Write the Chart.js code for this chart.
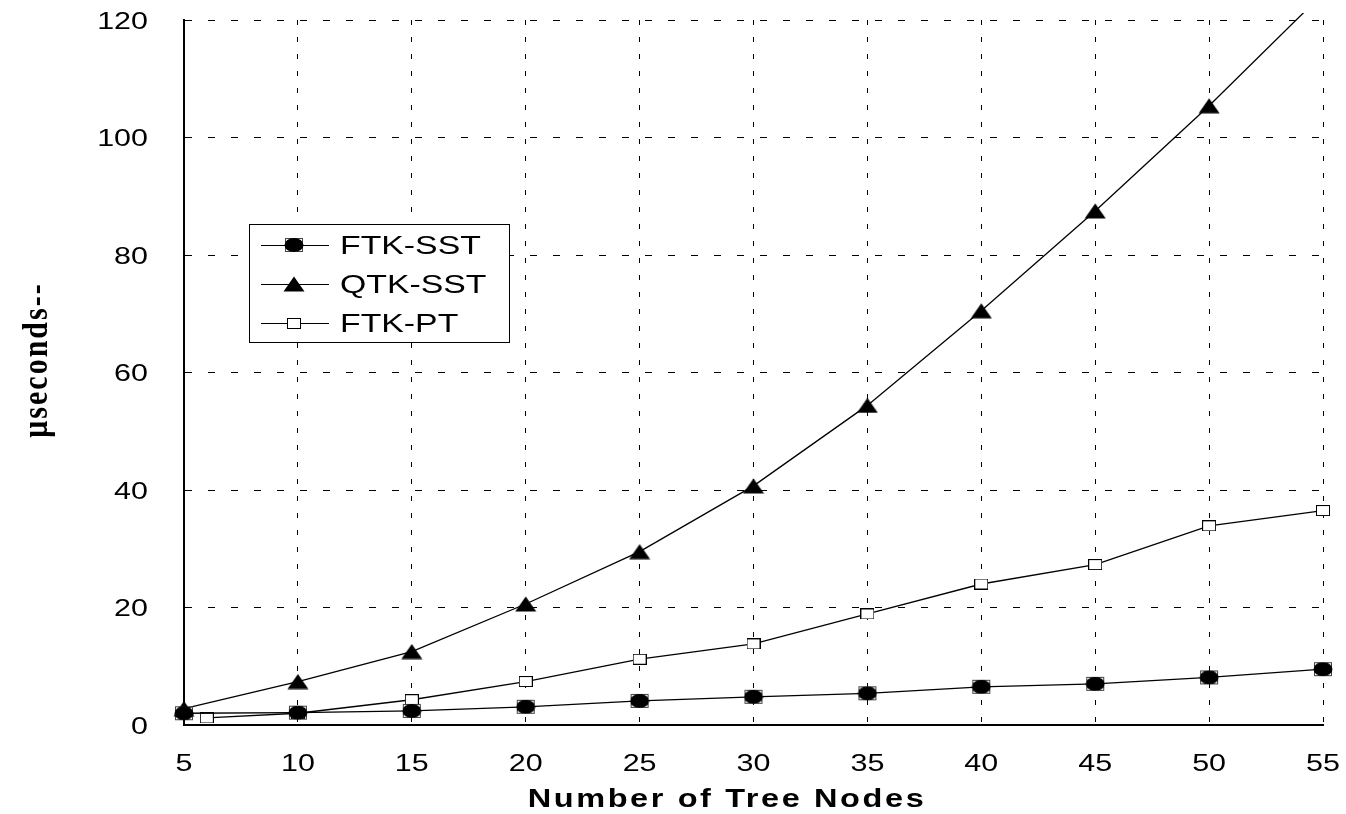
<!DOCTYPE html>
<html>
<head>
<meta charset="utf-8">
<title>Number of Tree Nodes</title>
<script src="https://cdn.jsdelivr.net/npm/chart.js@4.4.1/dist/chart.umd.min.js"></script>
<style>
    html, body { margin: 0; padding: 0; background: #fff; }
    #wrap { width: 1346px; height: 814px; }
</style>
</head>
<body>
<div id="wrap"><canvas id="nodesChart" width="1346" height="814"></canvas></div>
<script>
// Values
const treeNodes  = [5, 10, 15, 20, 25, 30, 35, 40, 45, 50, 55];
const ftkPtNodes = [6, 10, 15, 20, 25, 30, 35, 40, 45, 50, 55];
const ftkSst = [2.0, 2.1, 2.4, 3.1, 4.1, 4.8, 5.4, 6.5, 7.0, 8.1, 9.5];
const qtkSst = [2.8, 7.4, 12.5, 20.6, 29.5, 40.7, 54.4, 70.5, 87.5, 105.4, 124.5];
const ftkPt  = [1.2, 2.0, 4.3, 7.4, 11.2, 13.8, 18.9, 24.0, 27.3, 33.9, 36.5];
const xTicks = [5, 10, 15, 20, 25, 30, 35, 40, 45, 50, 55];
const yTicks = [0, 20, 40, 60, 80, 100, 120];
const seriesNames = ['FTK-SST', 'QTK-SST', 'FTK-PT'];

const SANS = '"Liberation Sans", Arial, sans-serif';
const SERIF = '"Liberation Serif", "Times New Roman", serif';

// small canvases used as point styles
function makeMarker(w, h, paint) {
    const c = document.createElement('canvas');
    c.width = w;
    c.height = h;
    paint(c.getContext('2d'), w, h);
    return c;
}

const dotMark = makeMarker(20, 16, (g, w, h) => {
    g.strokeStyle = '#444';
    g.lineWidth = 1;
    g.strokeRect(1.5, 1.5, w - 3, h - 3);
    g.fillStyle = '#000';
    g.beginPath();
    g.ellipse(w / 2, h / 2, w / 2 - 0.5, h / 2 - 1, 0, 0, Math.PI * 2);
    g.fill();
});

const triMark = makeMarker(22, 16, (g, w, h) => {
    g.fillStyle = '#000';
    g.beginPath();
    g.moveTo(w / 2, 0.5);
    g.lineTo(w - 0.5, h - 0.5);
    g.lineTo(0.5, h - 0.5);
    g.closePath();
    g.fill();
});

const boxMark = makeMarker(14, 11, (g, w, h) => {
    g.fillStyle = '#fff';
    g.fillRect(0, 0, w, h);
    g.strokeStyle = '#000';
    g.lineWidth = 1;
    g.strokeRect(0.5, 0.5, w - 1, h - 1);
});

const markers = [dotMark, triMark, boxMark];

function toPoints(xs, ys) {
    return xs.map((x, i) => ({ x: x, y: ys[i] }));
}

function stretchText(ctx, txt, x, y, align, sx) {
    ctx.save();
    ctx.translate(x, y);
    ctx.scale(sx, 1);
    ctx.textAlign = align;
    ctx.fillText(txt, 0, 0);
    ctx.restore();
}

// tick labels, axis titles and the boxed legend (the figure's text is wide)
const paperText = {
    id: 'paperText',
    afterDraw(chart) {
        const ctx = chart.ctx;
        const xs = chart.scales.x;
        const ys = chart.scales.y;
        ctx.save();
        ctx.fillStyle = '#000';
        ctx.textBaseline = 'alphabetic';

        ctx.font = '24px ' + SANS;
        xTicks.forEach(v => stretchText(ctx, String(v), xs.getPixelForValue(v), 771, 'center', 1.27));
        yTicks.forEach(v => stretchText(ctx, String(v), 148, ys.getPixelForValue(v) + 8.6, 'right', 1.27));

        // x title
        ctx.font = 'bold 25px ' + SANS;
        ctx.letterSpacing = '2px';
        stretchText(ctx, 'Number of Tree Nodes', 727, 806.5, 'center', 1.3);

        // y title
        ctx.save();
        ctx.translate(47, 360);
        ctx.scale(1.2, 1);
        ctx.rotate(-Math.PI / 2);
        ctx.font = 'bold 30px ' + SERIF;
        ctx.letterSpacing = '2px';
        ctx.textAlign = 'center';
        ctx.fillText('\u03bcseconds--', 0, 0);
        ctx.restore();
        ctx.letterSpacing = '0px';

        // legend box
        ctx.fillStyle = '#fff';
        ctx.fillRect(249, 224, 260, 118);
        ctx.strokeStyle = '#000';
        ctx.lineWidth = 1;
        ctx.strokeRect(249.5, 224.5, 260, 118);
        ctx.font = '26px ' + SANS;
        seriesNames.forEach((name, i) => {
            const y = 245 + i * 39;
            ctx.beginPath();
            ctx.moveTo(261, y + 0.5);
            ctx.lineTo(329, y + 0.5);
            ctx.stroke();
            const m = markers[i];
            ctx.drawImage(m, Math.round(294 - m.width / 2), Math.round(y - m.height / 2));
            ctx.fillStyle = '#000';
            stretchText(ctx, name, 340, y + 9.3, 'left', 1.3);
        });
        ctx.restore();
    }
};

const lineStyle = {
    borderColor: '#000',
    backgroundColor: '#000',
    borderWidth: 1.3,
    tension: 0,
    fill: false,
    pointRadius: 8,
    pointHoverRadius: 8,
    // markers at the edges spill over the axes, the steep line stops just above the frame
    clip: { left: 16, right: 16, top: 7, bottom: 16 }
};

new Chart(document.getElementById('nodesChart'), {
    type: 'line',
    data: {
        datasets: [
            Object.assign({ label: seriesNames[0], data: toPoints(treeNodes, ftkSst), pointStyle: dotMark }, lineStyle),
            Object.assign({ label: seriesNames[1], data: toPoints(treeNodes, qtkSst), pointStyle: triMark }, lineStyle),
            Object.assign({ label: seriesNames[2], data: toPoints(ftkPtNodes, ftkPt), pointStyle: boxMark }, lineStyle)
        ]
    },
    options: {
        responsive: false,
        animation: false,
        events: [],
        layout: { padding: { left: 184, top: 20, right: 23, bottom: 89 } },
        plugins: {
            legend: { display: false },
            tooltip: { enabled: false }
        },
        scales: {
            x: {
                type: 'linear',
                min: xTicks[0],
                max: xTicks[xTicks.length - 1],
                ticks: { display: false, stepSize: 5 },
                grid: { color: '#000', lineWidth: 1, drawTicks: false },
                border: { display: true, color: '#000', width: 2, dash: [5, 12] }
            },
            y: {
                min: yTicks[0],
                max: yTicks[yTicks.length - 1],
                ticks: { display: false, stepSize: 20 },
                grid: { color: '#000', lineWidth: 1, drawTicks: false },
                border: { display: true, color: '#000', width: 2, dash: [7, 16] }
            }
        }
    },
    plugins: [paperText]
});
</script>
</body>
</html>
